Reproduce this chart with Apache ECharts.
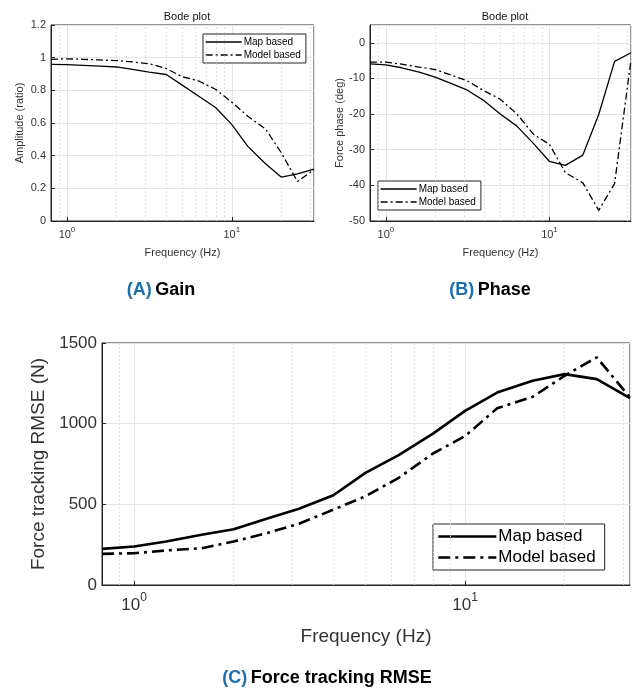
<!DOCTYPE html>
<html>
<head>
<meta charset="utf-8">
<script src="https://cdn.jsdelivr.net/npm/echarts@6/dist/echarts.min.js"></script>
<style>
html,body{margin:0;padding:0;background:#fff;}
#c{width:639px;height:688px;}
</style>
</head>
<body>
<div id="c"></div>
<script>
// ---- data ----
const freqHz = [0.8, 1, 1.25, 1.6, 2, 2.5, 3.15, 4, 5, 6.3, 8, 10, 12.5, 16, 20, 25, 31.5];
const gainMap   = [0.959, 0.957, 0.953, 0.948, 0.943, 0.928, 0.912, 0.897, 0.832, 0.764, 0.693, 0.590, 0.457, 0.350, 0.268, 0.289, 0.318];
const gainModel = [0.990, 0.993, 0.990, 0.986, 0.982, 0.974, 0.963, 0.934, 0.883, 0.857, 0.805, 0.727, 0.641, 0.564, 0.416, 0.242, 0.314];
const phaseMap   = [-5.9, -6.2, -7.0, -8.2, -9.6, -11.4, -13.3, -16.3, -20.0, -23.3, -28.3, -33.3, -34.4, -31.5, -20.1, -5.2, -2.8];
const phaseModel = [-5.4, -5.4, -6.0, -6.8, -7.5, -9.0, -10.7, -13.5, -15.8, -19.9, -25.7, -28.5, -36.4, -39.3, -47.0, -39.5, -4.8];
const rmseMap   = [224, 239, 270, 311, 346, 409, 473, 556, 695, 805, 938, 1079, 1193, 1266, 1307, 1276, 1158];
const rmseModel = [193, 197, 214, 228, 270, 320, 380, 467, 550, 664, 815, 923, 1095, 1166, 1297, 1411, 1162];
const minorGridHz = [0.9, 2, 3, 4, 5, 6, 7, 8, 9, 20, 30];
const seriesNames = ['Map based', 'Model based'];
const xRange = [0.8, 31.5];

const pair = arr => freqHz.map((f, i) => [f, arr[i]]);

const ink = '#262626';
const majorGrid = '#e4e4e4';
const minorGrid = '#dadada';
const FONT = 'Liberation Sans, Arial, sans-serif';

function logLabel(fs, ss, raise, margin) {
  return {
    margin: margin,
    formatter: v => {
      const l = Math.log10(v);
      if (Math.abs(l - Math.round(l)) > 1e-6) return '';
      return '{b|10}{s|' + Math.round(l) + '}';
    },
    showMinLabel: false, showMaxLabel: false,
    rich: {
      b: {fontSize: fs, color: '#333', fontFamily: FONT, padding: [raise, 0, 0, 0]},
      s: {fontSize: ss, color: '#333', fontFamily: FONT, padding: [0, 0, raise, 0]}
    }
  };
}

function xAxisCfg(gi, fs, ss, raise, margin, nameFs, nameGap) {
  return {
    gridIndex: gi, type: 'log', logBase: 10, min: xRange[0], max: xRange[1],
    name: 'Frequency (Hz)', nameLocation: 'middle', nameGap: nameGap,
    nameTextStyle: {fontSize: nameFs, color: '#333', fontFamily: FONT},
    axisLine: {show: true, onZero: false, lineStyle: {color: ink, width: 1}},
    axisTick: {show: true, inside: true, length: 4, lineStyle: {color: ink}},
    axisLabel: logLabel(fs, ss, raise, margin),
    splitLine: {show: true, lineStyle: {color: majorGrid, width: 1}},
    minorTick: {show: false}
  };
}

function yAxisCfg(gi, name, min, max, interval, fs, nameFs, nameGap, showMax) {
  return {
    gridIndex: gi, type: 'value', min: min, max: max, interval: interval,
    name: name, nameLocation: 'middle', nameGap: nameGap,
    nameTextStyle: {fontSize: nameFs, color: '#333', fontFamily: FONT},
    axisLine: {show: true, onZero: false, lineStyle: {color: ink, width: 1}},
    axisTick: {show: true, inside: true, length: 4, lineStyle: {color: ink}},
    axisLabel: {fontSize: fs, color: '#333', margin: 5, showMaxLabel: showMax, fontFamily: FONT,
      formatter: v => String(Math.round(v * 1000) / 1000)},
    splitLine: {show: true, lineStyle: {color: majorGrid, width: 1}}
  };
}

function lineSeries(gi, name, arr, width, dashed) {
  return {
    type: 'line', name: name, xAxisIndex: gi, yAxisIndex: gi,
    data: pair(arr), symbol: 'none', smooth: false, z: 5,
    lineStyle: {color: '#000', width: width, type: dashed || 'solid'}
  };
}

function minorSeries(gi) {
  return {
    type: 'line', name: 'minor' + gi, xAxisIndex: gi, yAxisIndex: gi, data: [], silent: true, z: 1,
    markLine: {
      silent: true, symbol: ['none', 'none'], label: {show: false}, animation: false,
      lineStyle: {type: [1.5, 2.5], color: minorGrid, width: 1},
      emphasis: {disabled: true},
      data: minorGridHz.map(v => ({xAxis: v}))
    }
  };
}

const dashSmall = [7, 3, 2, 3];
const dashBig = [12, 5, 3, 5];

function legendCfg(left, top, fs, lw, dash, itemW, gap, pad) {
  return {
    orient: 'vertical', left: left, top: top,
    backgroundColor: '#fff', borderColor: ink, borderWidth: 1, borderRadius: 0,
    padding: pad, itemGap: gap, itemWidth: itemW, itemHeight: fs,
    textStyle: {fontSize: fs, color: '#000', fontFamily: FONT, padding: [0, 0, 0, -3]},
    selectedMode: false,
    data: [
      {name: seriesNames[0], lineStyle: {color: '#000', width: lw, type: 'solid'}, itemStyle: {opacity: 0}},
      {name: seriesNames[1], lineStyle: {color: '#000', width: lw, type: dash}, itemStyle: {opacity: 0}}
    ]
  };
}

const chart = echarts.init(document.getElementById('c'), null, {renderer: 'canvas'});
chart.setOption({
  animation: false,
  backgroundColor: '#fff',
  grid: [
    {left: 51, top: 25, width: 263, height: 196, show: true, borderColor: ink, borderWidth: 1, backgroundColor: 'transparent'},
    {left: 370, top: 25, width: 261, height: 196, show: true, borderColor: ink, borderWidth: 1, backgroundColor: 'transparent'},
    {left: 102, top: 343, width: 528, height: 242, show: true, borderColor: ink, borderWidth: 1, backgroundColor: 'transparent'}
  ],
  title: [
    {text: 'Bode plot', left: 182, top: 6, textAlign: 'center', textStyle: {fontSize: 11, fontWeight: 'normal', color: '#111', fontFamily: FONT}},
    {text: 'Bode plot', left: 500, top: 6, textAlign: 'center', textStyle: {fontSize: 11, fontWeight: 'normal', color: '#111', fontFamily: FONT}}
  ],
  legend: [
    legendCfg(203, 34, 10, 1.3, dashSmall, 36, 3, [3, 5, 3, 2]),
    legendCfg(378, 181, 10, 1.3, dashSmall, 36, 3, [3, 5, 3, 2]),
    legendCfg(433, 524, 17, 2.6, dashBig, 58, 4, [4, 9, 4, 4])
  ],
  xAxis: [
    xAxisCfg(0, 11, 8, 5, 3, 11, 26),
    xAxisCfg(1, 11, 8, 5, 3, 11, 26),
    xAxisCfg(2, 17, 12, 8, 4, 19, 42)
  ],
  yAxis: [
    yAxisCfg(0, 'Amplitude (ratio)', 0, 1.2, 0.2, 11, 11, 26, true),
    yAxisCfg(1, 'Force phase (deg)', -50, 5, 10, 11, 11, 25, false),
    yAxisCfg(2, 'Force tracking RMSE (N)', 0, 1500, 500, 17, 19, 48, true)
  ],
  series: [
    minorSeries(0), minorSeries(1), minorSeries(2),
    lineSeries(0, seriesNames[0], gainMap, 1.3),
    lineSeries(0, seriesNames[1], gainModel, 1.3, dashSmall),
    lineSeries(1, seriesNames[0], phaseMap, 1.3),
    lineSeries(1, seriesNames[1], phaseModel, 1.3, dashSmall),
    lineSeries(2, seriesNames[0], rmseMap, 2.6),
    lineSeries(2, seriesNames[1], rmseModel, 2.6, dashBig)
  ],
  graphic: [
    {type: 'text', x: 161, y: 290, style: {
      text: '{a|(A)} {t|Gain}', align: 'center', verticalAlign: 'middle',
      rich: {a: {fill: '#1b6fae', fontSize: 18, fontWeight: 'bold', fontFamily: FONT},
             t: {fill: '#000', fontSize: 18, fontWeight: 'bold', fontFamily: FONT}}}},
    {type: 'text', x: 490, y: 290, style: {
      text: '{a|(B)} {t|Phase}', align: 'center', verticalAlign: 'middle',
      rich: {a: {fill: '#1b6fae', fontSize: 18, fontWeight: 'bold', fontFamily: FONT},
             t: {fill: '#000', fontSize: 18, fontWeight: 'bold', fontFamily: FONT}}}},
    {type: 'text', x: 327, y: 678, style: {
      text: '{a|(C)} {t|Force tracking RMSE}', align: 'center', verticalAlign: 'middle',
      rich: {a: {fill: '#1b6fae', fontSize: 18, fontWeight: 'bold', fontFamily: FONT},
             t: {fill: '#000', fontSize: 18, fontWeight: 'bold', fontFamily: FONT}}}}
  ]
});
</script>
</body>
</html>
